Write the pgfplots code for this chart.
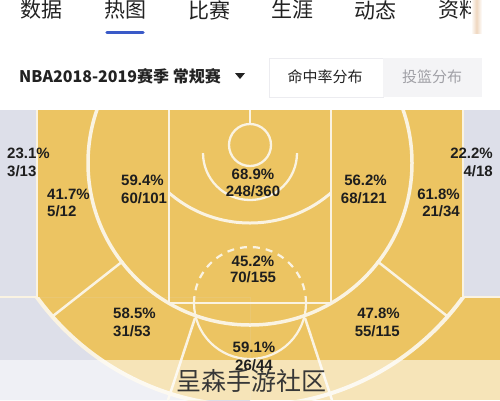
\documentclass[border=0pt]{standalone}
\usepackage{fontspec}
\usepackage{pgfplots}
\pgfplotsset{compat=1.18}
\setmainfont{Liberation Sans}
\newfontfamily\cjk{Noto Sans CJK SC}
\definecolor{court}{RGB}{236,196,98}
\definecolor{zonegray}{RGB}{221,223,233}
\definecolor{cline}{RGB}{250,243,226}
\definecolor{labtext}{RGB}{30,30,30}
\definecolor{tabtext}{RGB}{34,34,34}
\definecolor{blueline}{RGB}{58,90,200}
\definecolor{btnbg}{RGB}{244,244,246}
\definecolor{btnborder}{RGB}{236,236,240}
\definecolor{btngray}{RGB}{160,160,166}
\definecolor{wm}{RGB}{55,55,55}
\definecolor{peach}{RGB}{238,214,190}
\pgfplotsset{
  lbl/.style={draw=none, mark=none, point meta=explicit symbolic, nodes near coords,
    every node near coord/.append style={anchor=#1, inner sep=0pt,
      font=\fontsize{15}{15}\selectfont\bfseries, text=labtext}}
}
\begin{document}
\begin{tikzpicture}
\begin{axis}[at={(0,0)}, anchor=south west, scale only axis, width=500pt, height=400pt,
  xmin=0, xmax=500, ymin=0, ymax=400, y dir=reverse, hide axis, clip=true]
\coordinate (bl) at (axis cs:0,400);
\coordinate (tr) at (axis cs:500,0);
% background
\fill[white] (axis cs:0,0) rectangle (axis cs:500,400);
% top tabs
\node[font=\cjk\fontsize{21}{21}\selectfont, text=tabtext] at (axis cs:41,10) {数据};
\node[font=\cjk\fontsize{21}{21}\selectfont, text=tabtext] at (axis cs:125,10) {热图};
\node[font=\cjk\fontsize{21}{21}\selectfont, text=tabtext] at (axis cs:209,10) {比赛};
\node[font=\cjk\fontsize{21}{21}\selectfont, text=tabtext] at (axis cs:292,10) {生涯};
\node[font=\cjk\fontsize{21}{21}\selectfont, text=tabtext] at (axis cs:375,10) {动态};
\node[font=\cjk\fontsize{21}{21}\selectfont, text=tabtext] at (axis cs:459,10) {资料};
\fill[white] (axis cs:472,0) rectangle (axis cs:500,42);
\shade[left color=white, right color=white, middle color=peach] (axis cs:471,0) rectangle (axis cs:482,33);
\draw[blueline, line width=3.5pt, line cap=round] (axis cs:107,32.5) -- (axis cs:143,32.5);
% second row
\node[anchor=west, font=\cjk\bfseries\fontsize{16}{16}\selectfont, text=tabtext, inner sep=0pt] at (axis cs:19,76) {NBA2018-2019赛季 常规赛};
\fill[tabtext] (axis cs:235,73) -- (axis cs:245,73) -- (axis cs:240,79) -- cycle;
\filldraw[fill=white, draw=btnborder, line width=0.8pt] (axis cs:269,58) rectangle (axis cs:383,97);
\fill[btnbg] (axis cs:383,58) rectangle (axis cs:482,97);
\node[font=\cjk\fontsize{15}{15}\selectfont, text=tabtext] at (axis cs:325,77) {命中率分布};
\node[font=\cjk\fontsize{15}{15}\selectfont, text=btngray] at (axis cs:432,77) {投篮分布};
% court base
\fill[court] (axis cs:0,110) rectangle (axis cs:500,400);
\fill[zonegray] (axis cs:0,110) rectangle (axis cs:37,297);
\fill[zonegray] (axis cs:463,110) rectangle (axis cs:500,297);
\begin{scope}
\clip (axis cs:0,297) rectangle (axis cs:250,400);
\fill[zonegray, even odd rule] (axis cs:0,297) rectangle (axis cs:250,400) (axis cs:250,143) circle[radius=263pt];
\end{scope}
% court lines
\draw[cline, line width=2.5pt] (axis cs:37,110) -- (axis cs:37,297);
\draw[cline, line width=2.5pt] (axis cs:463,110) -- (axis cs:463,297);
\draw[cline, line width=2.5pt] (axis cs:0,297) -- (axis cs:37,297);
\draw[cline, line width=2.5pt] (axis cs:463,297) -- (axis cs:500,297);
\begin{scope}
\clip (axis cs:0,297) rectangle (axis cs:500,400);
\draw[cline, line width=4pt] (axis cs:250,143) circle[radius=263pt];
\end{scope}
\begin{scope}
\clip (axis cs:0,110) rectangle (axis cs:500,400);
\draw[cline, line width=3.5pt] (axis cs:250,163) circle[radius=162pt];
\end{scope}
\draw[cline, line width=2.2pt] (axis cs:169,110) -- (axis cs:169,303) -- (axis cs:331,303) -- (axis cs:331,110);
\begin{scope}
\clip (axis cs:169,110) rectangle (axis cs:331,400);
\draw[cline, line width=3pt] (axis cs:250,99) circle[radius=124pt];
\end{scope}
\begin{scope}
\clip (axis cs:0,153) rectangle (axis cs:500,400);
\draw[cline, line width=2.3pt] (axis cs:250,153) circle[radius=47pt];
\end{scope}
\draw[cline, line width=2.3pt] (axis cs:250,145) circle[radius=21pt];
\draw[cline, line width=2.3pt] (axis cs:250,110) -- (axis cs:250,124);
\begin{scope}
\clip (axis cs:0,303) rectangle (axis cs:500,400);
\draw[cline, line width=2.2pt] (axis cs:250,303) circle[radius=56pt];
\end{scope}
\begin{scope}
\clip (axis cs:0,110) rectangle (axis cs:500,303);
\draw[cline, line width=2.2pt, dash pattern=on 7pt off 6pt] (axis cs:250,303) circle[radius=56pt];
\end{scope}
\draw[cline, line width=2.5pt] (axis cs:123,261) -- (axis cs:53,316);
\draw[cline, line width=2.5pt] (axis cs:377,261) -- (axis cs:447,316);
\draw[cline, line width=2.5pt] (axis cs:195,318) -- (axis cs:168,400);
\draw[cline, line width=2.5pt] (axis cs:305,318) -- (axis cs:332,400);
% zone labels (data)
\addplot[lbl=base west] coordinates {
 (7,158) [23.1\%] (7,176) [3/13]
 (47,199) [41.7\%] (47,216) [5/12]
 (121,185) [59.4\%] (121,203) [60/101]
 (113,318) [58.5\%] (113,336) [31/53]
};
\addplot[lbl=base] coordinates {
 (253,179) [68.9\%] (253,196) [248/360]
 (253,266) [45.2\%] (253,282) [70/155]
 (254,352) [59.1\%] (254,370) [26/44]
};
\addplot[lbl=base east] coordinates {
 (387,185) [56.2\%] (387,203) [68/121]
 (460,199) [61.8\%] (460,216) [21/34]
 (493,158) [22.2\%] (493,176) [4/18]
 (400,318) [47.8\%] (400,336) [55/115]
};
% bottom overlay and watermark
\fill[white, opacity=0.55] (axis cs:0,360) rectangle (axis cs:500,400);
\node[font=\cjk\fontsize{25}{25}\selectfont, text=wm] at (axis cs:251,381) {呈森手游社区};
\end{axis}
\pgfresetboundingbox
\useasboundingbox (bl) rectangle (tr);
\end{tikzpicture}
\end{document}
